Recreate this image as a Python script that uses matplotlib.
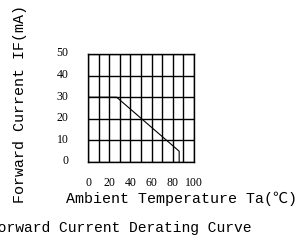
import matplotlib
matplotlib.use("Agg")
import matplotlib.pyplot as plt
import matplotlib.transforms as mtransforms

# derating curve: flat 30 mA up to ~27 C, linear down to ~5 mA at ~86 C, then drop to 0
temp = [0, 27, 86, 86]
current = [30, 30, 5, 0]

xticks = [0, 20, 40, 60, 80, 100]
yticks = [0, 10, 20, 30, 40, 50]
xgrid = list(range(0, 101, 10))
ygrid = list(range(0, 51, 10))

mono = ['Liberation Mono', 'Noto Sans CJK SC', 'DejaVu Sans']
serif = ['Liberation Serif', 'DejaVu Serif']

fig = plt.figure(figsize=(3.0, 2.53), dpi=100)
ax = fig.add_axes([88/300, 1 - 163/253, 106/300, 108/253])

for gx in xgrid:
    ax.axvline(gx, color='black', lw=1.0)
for gy in ygrid:
    ax.axhline(gy, color='black', lw=1.0)

ax.plot(temp, current, color='black', lw=0.8)

ax.set_xlim(0, 100)
ax.set_ylim(0, 50)
ax.set_xticks(xticks)
ax.set_yticks(yticks)
ax.tick_params(length=0, labelsize=8.5, pad=10)
ax.tick_params(axis='y', pad=14)
for lab in ax.get_xticklabels() + ax.get_yticklabels():
    lab.set_family(serif)
# y labels sit slightly above their grid lines
off = mtransforms.ScaledTranslation(0, 3/100, fig.dpi_scale_trans)
for lab in ax.get_yticklabels():
    lab.set_transform(lab.get_transform() + off)
for s in ax.spines.values():
    s.set_linewidth(1.0)

fig.text(20/300, 1 - 104/253, 'Forward Current IF(mA)', rotation=90,
         ha='center', va='center', fontsize=10.8, family=mono)
fig.text(182/300, 1 - 199/253, 'Ambient Temperature Ta(\u2103)',
         ha='center', va='center', fontsize=10.8, family=mono)
fig.text(120/300, 1 - 228/253, 'Forward Current Derating Curve',
         ha='center', va='center', fontsize=10.5, family=mono)

fig.savefig('out.png', dpi=100)
